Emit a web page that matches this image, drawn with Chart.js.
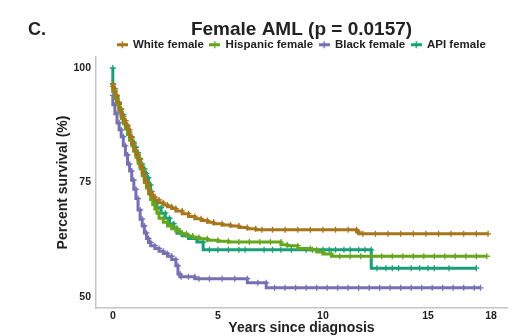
<!DOCTYPE html>
<html>
<head>
<meta charset="utf-8">
<script src="https://cdn.jsdelivr.net/npm/chart.js@4.4.1/dist/chart.umd.min.js"></script>
<style>
  html, body { margin: 0; padding: 0; background: #fff; }
  #km { display: block; }
</style>
</head>
<body>
<canvas id="km" width="513" height="336"></canvas>
<script>
// Kaplan-Meier survival, female AML by race/ethnicity

const groupNames = ['White female', 'Hispanic female', 'Black female', 'API female'];
const groupColors = ['#A6761D', '#66A61E', '#7570B3', '#1B9E77'];

// years since diagnosis / percent surviving (flat repeats are censored cases)
const whiteYears = [0, 0.1, 0.2, 0.3, 0.4, 0.5, 0.6, 0.7, 0.8, 0.9, 1.0, 1.1, 1.2, 1.3, 1.4, 1.5, 1.6, 1.7, 1.8, 1.9, 2.0, 2.2, 2.4, 2.6, 2.8, 3.0, 3.3, 3.6, 3.9, 4.2, 4.5, 4.8, 5.2, 5.6, 6.0, 6.4, 6.8, 7.1, 7.6, 8.2, 8.8, 9.4, 10.0, 10.6, 11.2, 11.6, 11.7, 11.9, 12.5, 13.1, 13.7, 14.3, 14.9, 15.5, 16.1, 16.7, 17.3, 17.86];
const whiteSurv  = [96.5, 95.5, 94, 92.5, 91, 89.5, 88.5, 87.5, 86.5, 85, 83.5, 82, 81, 80, 78.5, 77, 75.5, 74.5, 73, 72.3, 71.8, 71.2, 70.6, 70.1, 69.7, 69.3, 68.8, 68.2, 67.6, 67.1, 66.7, 66.3, 66.0, 65.7, 65.5, 65.2, 64.9, 64.7, 64.7, 64.7, 64.7, 64.7, 64.7, 64.7, 64.7, 64.7, 64.2, 63.8, 63.8, 63.8, 63.8, 63.8, 63.8, 63.8, 63.8, 63.8, 63.8, 63.8];

const hispanicYears = [0, 0.1, 0.2, 0.3, 0.4, 0.5, 0.6, 0.7, 0.8, 0.9, 1.0, 1.1, 1.2, 1.3, 1.4, 1.5, 1.6, 1.7, 1.8, 1.9, 2.0, 2.1, 2.2, 2.4, 2.6, 2.8, 3.0, 3.2, 3.5, 3.8, 4.1, 4.5, 5.0, 5.5, 6.0, 6.5, 7.0, 7.5, 8.0, 8.3, 8.8, 9.4, 9.7, 10.0, 10.4, 10.8, 11.3, 11.8, 12.3, 12.8, 13.3, 13.8, 14.3, 14.8, 15.3, 15.8, 16.3, 16.8, 17.3, 17.8];
const hispanicSurv  = [96, 94.8, 93.3, 92, 90.5, 89, 87.8, 86.7, 85.5, 84.2, 83, 81.8, 80.5, 79.2, 78, 76.5, 75, 73.8, 72.5, 71.3, 70.2, 69.2, 68.3, 67.2, 66.3, 65.5, 64.9, 64.4, 63.8, 63.3, 63.0, 62.7, 62.4, 62.2, 62.0, 62.0, 62.0, 62.0, 62.0, 61.4, 61.2, 60.6, 60.3, 59.8, 59.4, 58.9, 58.9, 58.9, 58.9, 58.9, 58.9, 58.9, 58.9, 58.9, 58.9, 58.9, 58.9, 58.9, 58.9, 58.9];

const blackYears = [0, 0.1, 0.2, 0.3, 0.4, 0.5, 0.6, 0.7, 0.8, 0.9, 1.0, 1.1, 1.2, 1.3, 1.4, 1.5, 1.6, 1.7, 1.8, 2.0, 2.2, 2.4, 2.6, 2.8, 3.0, 3.1, 3.2, 3.25, 3.6, 3.9, 4.1, 4.6, 5.2, 5.8, 6.4, 6.9, 7.3, 7.7, 8.2, 8.7, 9.2, 9.7, 10.2, 10.7, 11.2, 11.7, 12.2, 12.7, 13.2, 13.7, 14.2, 14.7, 15.2, 15.7, 16.2, 16.7, 17.2, 17.5];
const blackSurv  = [94, 92, 90, 88, 86.5, 85, 83, 81, 79, 77.5, 75.5, 73.5, 71.5, 69, 67, 65.5, 64, 62.8, 61.9, 61.2, 60.6, 60.0, 59.5, 58.9, 58.2, 56.8, 55.0, 54.4, 54.4, 54.4, 54.0, 54.0, 54.0, 54.0, 54.0, 53.1, 53.1, 52.0, 52.0, 52.0, 52.0, 52.0, 52.0, 52.0, 52.0, 52.0, 52.0, 52.0, 52.0, 52.0, 52.0, 52.0, 52.0, 52.0, 52.0, 52.0, 52.0, 52.0];

const apiYears = [0, 0.02, 0.1, 0.2, 0.3, 0.4, 0.5, 0.6, 0.7, 0.8, 0.9, 1.0, 1.1, 1.2, 1.3, 1.4, 1.5, 1.6, 1.7, 1.8, 1.85, 1.95, 2.1, 2.3, 2.5, 2.7, 2.9, 3.05, 3.3, 3.6, 4.0, 4.3, 4.6, 5.0, 5.5, 6.0, 6.3, 7.2, 7.6, 8.0, 8.5, 9.2, 9.5, 10.0, 10.3, 10.6, 11.0, 11.3, 11.7, 12.0, 12.3, 12.57, 13.0, 13.3, 13.6, 14.2, 14.6, 15.0, 15.3, 16.0, 17.3];
const apiSurv  = [100, 96.5, 95, 93.7, 92.3, 91, 89.8, 88.5, 87.3, 86, 84.8, 83.8, 82.7, 81.5, 80.2, 79, 78, 77, 76, 74.5, 73, 71.8, 70.8, 69.5, 68.3, 67.2, 66, 65, 63.9, 63.4, 62.8, 62.0, 60.3, 60.3, 60.3, 60.3, 60.3, 60.3, 60.3, 60.3, 60.3, 60.3, 60.3, 60.3, 60.3, 60.3, 60.3, 60.3, 60.3, 60.3, 60.3, 56.3, 56.3, 56.3, 56.3, 56.3, 56.3, 56.3, 56.3, 56.3, 56.3];

const xTicks = [0, 5, 10, 15, 18];
const yTicks = [50, 75, 100];

const FONT = "'Liberation Sans', Arial, sans-serif";

function pairs(xs, ys) {
    return xs.map((x, i) => ({ x: x, y: ys[i] }));
}

// small line-with-cross icon for the legend
function legendIcon(color) {
    const c = document.createElement('canvas');
    c.width = 11;
    c.height = 9;
    const g = c.getContext('2d');
    g.strokeStyle = color;
    g.lineWidth = 3;
    g.beginPath();
    g.moveTo(0, 4.5);
    g.lineTo(11, 4.5);
    g.stroke();
    g.lineWidth = 1.5;
    g.beginPath();
    g.moveTo(5.5, 1);
    g.lineTo(5.5, 8);
    g.stroke();
    return c;
}

const series = [
    [whiteYears, whiteSurv],
    [hispanicYears, hispanicSurv],
    [blackYears, blackSurv],
    [apiYears, apiSurv]
];

const datasets = series.map((s, i) => ({
    label: groupNames[i],
    data: pairs(s[0], s[1]),
    borderColor: groupColors[i],
    backgroundColor: groupColors[i],
    borderWidth: 3,
    stepped: 'after',
    fill: false,
    pointStyle: 'cross',
    pointRadius: 3,
    pointBorderWidth: 1.3,
    pointBorderColor: groupColors[i],
    legendIcon: legendIcon(groupColors[i])
}));

// the panel letter in the top left corner
const panelLetter = {
    id: 'panelLetter',
    afterDraw(chart) {
        const ctx = chart.ctx;
        ctx.save();
        ctx.font = 'bold 18px ' + FONT;
        ctx.fillStyle = '#222';
        ctx.textAlign = 'left';
        ctx.textBaseline = 'alphabetic';
        ctx.fillText('C.', 28, 35);
        ctx.restore();
    }
};

const chart = new Chart(document.getElementById('km'), {
    type: 'line',
    data: { datasets: datasets },
    plugins: [panelLetter],
    options: {
        responsive: false,
        animation: false,
        layout: { padding: { left: 55, right: 6, top: 0, bottom: 0 } },
        plugins: {
            tooltip: { enabled: false },
            title: {
                display: true,
                fullSize: false,
                text: 'Female AML (p = 0.0157)',
                color: '#222',
                font: { family: FONT, size: 19, weight: 'bold', lineHeight: 1 },
                padding: { top: 20, bottom: -6 }
            },
            legend: {
                display: true,
                fullSize: false,
                position: 'top',
                labels: {
                    color: '#222',
                    font: { family: FONT, size: 11.5, weight: 'bold' },
                    usePointStyle: true,
                    boxWidth: 10,
                    padding: 6,
                    generateLabels(chart) {
                        return chart.data.datasets.map((d, i) => ({
                            text: d.label,
                            fillStyle: d.borderColor,
                            strokeStyle: d.borderColor,
                            fontColor: '#222',
                            pointStyle: d.legendIcon,
                            lineWidth: 0,
                            hidden: false,
                            datasetIndex: i
                        }));
                    }
                }
            }
        },
        scales: {
            x: {
                type: 'linear',
                min: -0.8,
                max: 18.76,
                grid: { display: false, drawTicks: false },
                border: { display: true, color: '#c4c4c4', width: 1.5 },
                afterBuildTicks(scale) {
                    scale.ticks = xTicks.map(v => ({ value: v }));
                },
                afterFit(scale) { scale.height = 28; },
                ticks: {
                    color: '#222',
                    padding: 2,
                    font: { family: FONT, size: 10.5, weight: 'bold' }
                },
                title: {
                    display: true,
                    text: 'Years since diagnosis',
                    color: '#222',
                    font: { family: FONT, size: 14, weight: 'bold' },
                    padding: { top: 0, bottom: -1 }
                }
            },
            y: {
                min: 47.6,
                max: 102.4,
                grid: { display: false, drawTicks: false },
                border: { display: true, color: '#c4c4c4', width: 1.5 },
                afterBuildTicks(scale) {
                    scale.ticks = yTicks.map(v => ({ value: v }));
                },
                afterFit(scale) { scale.width = 41; },
                ticks: {
                    color: '#222',
                    padding: 5,
                    font: { family: FONT, size: 10.5, weight: 'bold' }
                },
                title: {
                    display: true,
                    text: 'Percent survival (%)',
                    color: '#222',
                    font: { family: FONT, size: 14, weight: 'bold' },
                    padding: { top: 0, bottom: 0 }
                }
            }
        }
    }
});

// keep the legend row tight so the plot starts right under it
const legendFit = chart.legend.fit;
chart.legend.fit = function () {
    legendFit.call(this);
    this.height = 24;
};
chart.update();
</script>
</body>
</html>
